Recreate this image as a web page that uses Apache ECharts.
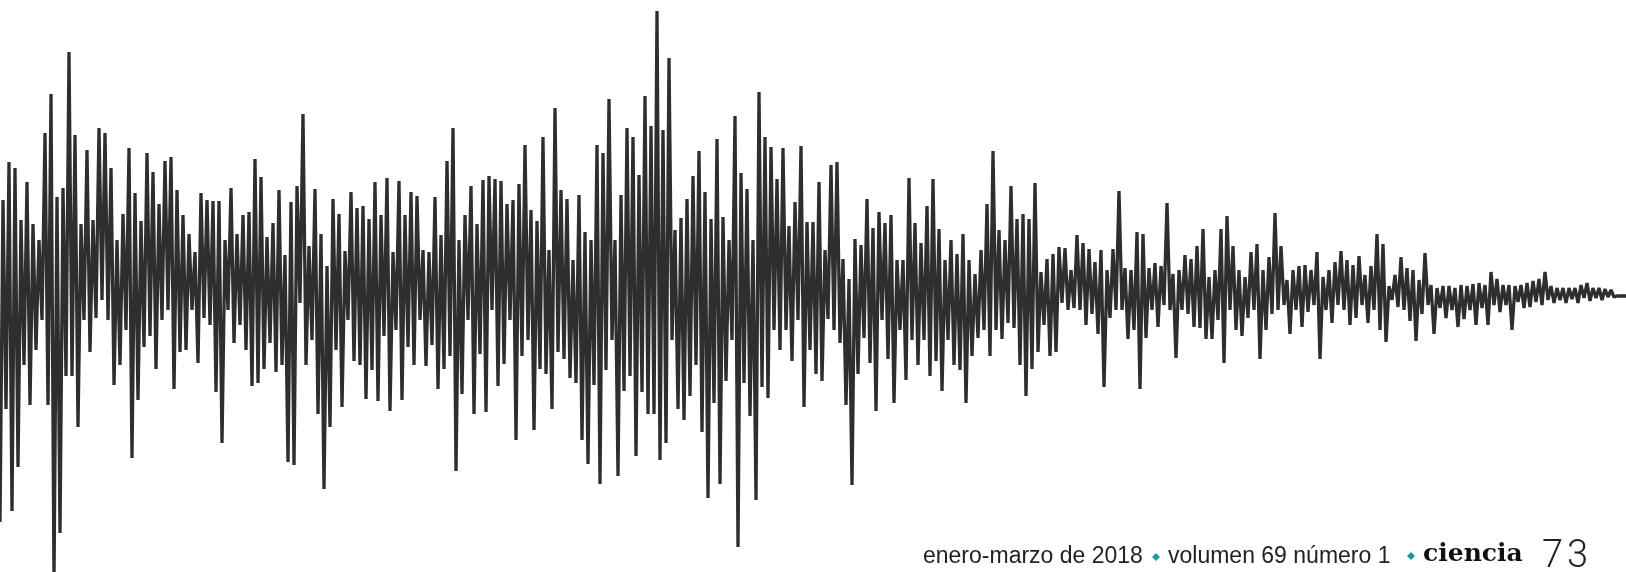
<!DOCTYPE html>
<html>
<head>
<meta charset="utf-8">
<script src="https://cdn.jsdelivr.net/npm/echarts@6/dist/echarts.min.js"></script>
<style>
html,body{margin:0;padding:0;background:#ffffff;}
#chart{width:1626px;height:572px;}
</style>
</head>
<body>
<div id="chart"></div>
<script>
// Seismogram trace amplitude (positive = up), left to right
const seg1 = [-242,80,-129,118,-231,112,-187,60,-85,98,-125,56,-70,40,-40,147,-125,186,-300,83,-253,92,-96,228,-96,145,-147,56,-40,130,-72,60,-38,152,-20,147,-40,112,-105,40,-85,66,-50,132,-178,87,-120,59,-67,127,-56,108,-89,76,-40,119,-30,123,-109,90,-72,65,-70,46,-30,28,-83,87,-38,80];
const seg2 = [-45,79,-112,79,-163,40,-30,92,-63,46,-45,65,-70,68,-106,121,-103,103,-89,43,-63,57,-92,90,-85,25,-182,78,-185,94,-23,166,-85,34,-60,91,-134,46,-209,14,-147,81,-70,66,-127,29,-40,88,-81,72,-85,74,-119,61,-90,98,-121,65,-56,102,-131,28,-50,99,-120,65,-67,88];
const seg3 = [-85,84,-40,30,-86,28,-65,83,-109,45,-89,119,-76,152,-191,40,-114,65,-40,94,-134,56,-74,100,-132,104,-30,101,-106,99,-84,76,-40,80,-160,96,-76,135,-60,70,-150,59,-89,143,-94,30,-129,172,-72,90,-79,81,-98,20,-103,85,-160,48,-184,40,-105,135,-204,127,-90,181];
const seg4 = [-60,40,-196,85,-111,152,-96,143,-176,105,-112,184,-134,154,-134,269,-180,150,-163,222,-60,50,-129,62,-140,81,-116,104,-85,129,-152,88,-218,61,-123,141,-204,63,-101,40,-60,164,-267,107,-103,91,-136,40,-220,188,-107,143,-118,133,-50,101,-70,132,-50,54,-81,78,-40,134,-127,58];
const seg5 = [-70,58,-94,98,-101,30,-39,115,-50,118,-63,21,-125,1,-205,41,-94,35,-58,81,-83,52,-131,68,-40,57,-79,65,-123,20,-50,20,-100,102,-60,57,-85,37,-60,74,-96,101,-81,51,-111,20,-60,40,-85,26,-90,46,-123,20,-76,6,-58,30,-50,76,-76,129,-50,50,-59,40,-43,94];
const seg6 = [-48,61,-85,66,-116,61,-89,97,-72,8,-45,21,-76,26,-72,33,-23,32,-30,10,-28,45,-30,37,-45,31,-34,18,-54,30,-107,10,-38,31,-30,89,-30,12,-59,10,-50,48,-109,46,-58,12,-30,17,-47,14,-25,77,-30,6,-78,10,-30,25,-34,21,-47,34,-48,51,-59,3];
const seg7 = [-59,10,-40,51,-83,64,-30,34,-50,10,-56,3,-38,28,-30,36,-79,10,-50,23,-34,67,-30,34,-25,0,-54,10,-30,14,-47,15,-32,10,-25,28,-79,3,-30,10,-43,18,-25,29,-30,20,-45,15,-38,24,-25,5,-43,14,-30,46,-50,36,-62,-6,-20,5,-27,23,-30,12];
const seg8 = [-41,10,-61,0,-34,27,-25,-5,-54,-8,-28,-6,-38,-6,-30,-8,-47,-5,-39,-6,-30,-4,-45,-3,-28,-5,-45,8,-25,1,-32,-5,-25,-5,-50,-6,-22,-5,-28,-3,-27,-1,-22,1,-25,8,-20,-6,-23,-8,-20,-8,-23,-8,-19,-8,-23,-5,-18,-3,-21,-8,-18,-8,-20,-9,-17,-10,-17,-16,-16,-16,-16];

const amplitude = [].concat(seg1, seg2, seg3, seg4, seg5, seg6, seg7, seg8);
const sampleIndex = amplitude.map(function (_, i) { return i; });

// Footer texts
const footerLeft = 'enero-marzo de 2018';
const footerMid = 'volumen 69 número 1';
const footerBrand = 'ciencia';
const pageDigits = ['7', '3'];

const chart = echarts.init(document.getElementById('chart'), null, {renderer: 'canvas'});

const teal = '#1a9e93';
function diamond(cx, cy, r) {
  return {
    type: 'polygon',
    shape: {points: [[cx, cy - r], [cx + r, cy], [cx, cy + r], [cx - r, cy]]},
    style: {fill: teal},
    silent: true
  };
}

chart.setOption({
  animation: false,
  backgroundColor: '#ffffff',
  grid: {left: 0, right: 0, top: 0, bottom: 0, containLabel: false},
  xAxis: {
    type: 'category',
    data: sampleIndex,
    boundaryGap: false,
    show: false
  },
  yAxis: {
    type: 'value',
    min: -292,
    max: 280,
    show: false
  },
  series: [{
    type: 'line',
    data: amplitude,
    showSymbol: false,
    symbol: 'none',
    smooth: false,
    lineStyle: {color: '#2e2e2e', width: 3.3, join: 'bevel', cap: 'butt'},
    silent: true
  }],
  graphic: [
    {type: 'text', style: {x: 923, y: 557, text: footerLeft, font: '23px "Liberation Sans"', fill: '#222222', verticalAlign: 'middle'}},
    diamond(1156, 557, 4),
    {type: 'text', style: {x: 1168, y: 557, text: footerMid, font: '23px "Liberation Sans"', fill: '#222222', verticalAlign: 'middle'}},
    diamond(1411, 556, 4),
    {type: 'text', style: {x: 1423, y: 554, text: footerBrand, font: 'bold 25px "DejaVu Serif"', fill: '#111111', verticalAlign: 'middle'}},
    {type: 'text', style: {x: 1542, y: 557, text: pageDigits[0], font: '300 38px Roboto', fill: '#222222', verticalAlign: 'middle'}},
    {type: 'text', style: {x: 1567, y: 557, text: pageDigits[1], font: '300 38px Roboto', fill: '#222222', verticalAlign: 'middle'}}
  ]
});
</script>
</body>
</html>
